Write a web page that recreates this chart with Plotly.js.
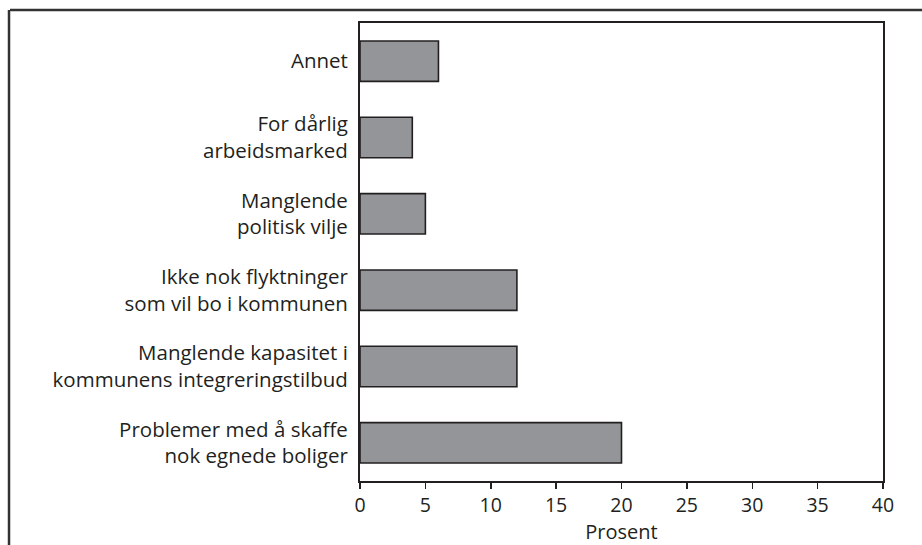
<!DOCTYPE html>
<html>
<head>
<meta charset="utf-8">
<script src="https://cdn.plot.ly/plotly-3.0.1.min.js"></script>
<style>
html,body{margin:0;padding:0;background:#fff;}
#chart{width:922px;height:545px;}
</style>
</head>
<body>
<div id="chart"></div>
<script>
// Categories listed top to bottom
const categories = [
  "Annet",
  "For dårlig<br>arbeidsmarked",
  "Manglende<br>politisk vilje",
  "Ikke nok flyktninger<br>som vil bo i kommunen",
  "Manglende kapasitet i<br>kommunens integreringstilbud",
  "Problemer med å skaffe<br>nok egnede boliger"
];
const values = [6, 4, 5, 12, 12, 20];
const xTickValues = [0, 5, 10, 15, 20, 25, 30, 35, 40];
const xAxisTitle = "Prosent";

const ink = "#231f20";
const fontFamily = "Open Sans, Noto Sans, sans-serif";

const trace = {
  type: "bar",
  orientation: "h",
  x: values,
  y: categories,
  width: 0.53,
  marker: {color: "#939598", line: {color: ink, width: 1.6}},
  hoverinfo: "x+y"
};

const layout = {
  width: 922,
  height: 545,
  margin: {l: 360, r: 39, t: 23, b: 64},
  paper_bgcolor: "#ffffff",
  plot_bgcolor: "#ffffff",
  font: {family: fontFamily, size: 20, color: ink},
  showlegend: false,
  xaxis: {
    range: [0, 40],
    tickvals: xTickValues,
    ticktext: xTickValues.map(String),
    ticks: "outside",
    ticklen: 6,
    tickwidth: 1.5,
    tickcolor: ink,
    showgrid: false,
    zeroline: false,
    showline: true,
    linecolor: ink,
    linewidth: 2,
    mirror: true,
    tickfont: {size: 19.5},
    title: {text: xAxisTitle, standoff: 2, font: {size: 20}}
  },
  yaxis: {
    type: "category",
    range: [5.5, -0.5],
    ticks: "",
    tickfont: {size: 20.5},
    ticklabelstandoff: 6,
    showgrid: false,
    zeroline: false,
    showline: true,
    linecolor: ink,
    linewidth: 2,
    mirror: true
  },
  shapes: [
    {type: "line", xref: "paper", yref: "paper", x0: -0.6692, x1: 1.08, y0: 1.0284, y1: 1.0284,
     line: {color: "#333333", width: 2.5}},
    {type: "line", xref: "paper", yref: "paper", x0: -0.6711, x1: -0.6711, y0: 1.0284, y1: -0.15,
     line: {color: "#333333", width: 2.5}}
  ]
};

Plotly.newPlot("chart", [trace], layout, {displayModeBar: false, staticPlot: true});
</script>
</body>
</html>
